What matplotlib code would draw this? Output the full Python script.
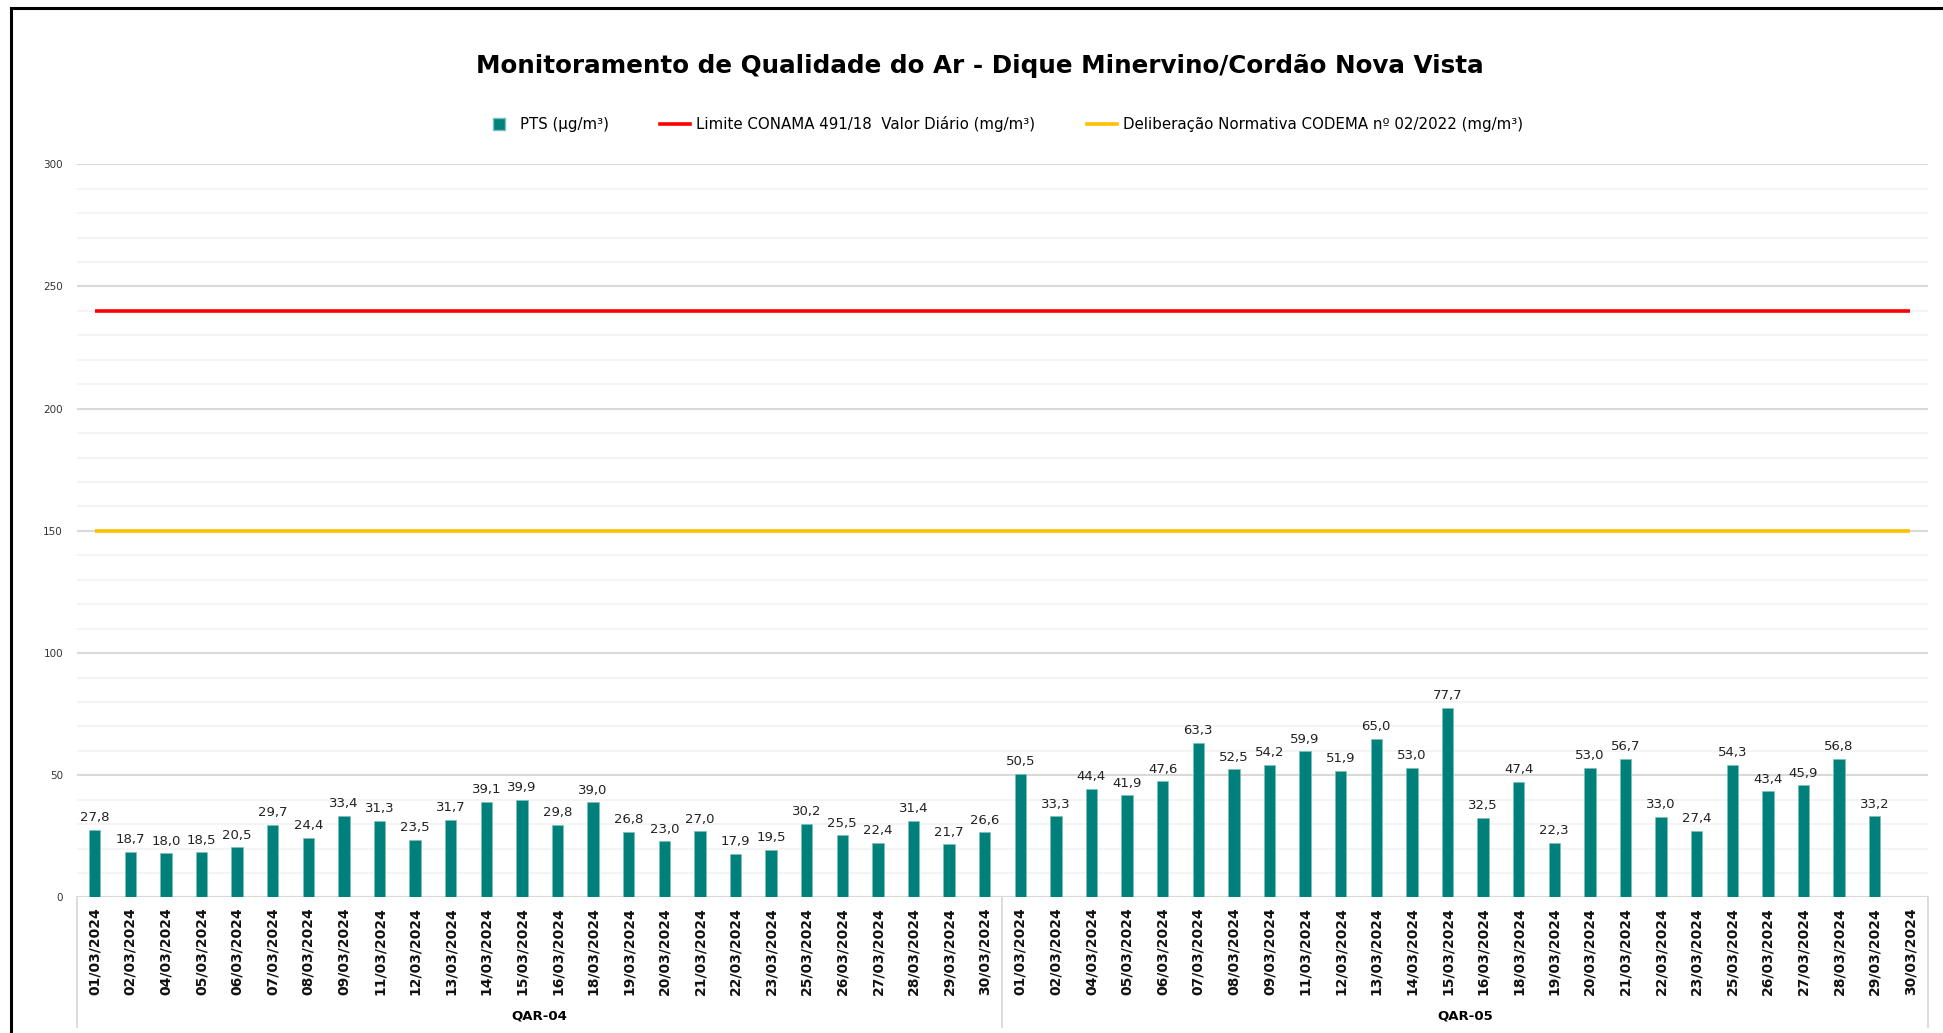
import matplotlib
matplotlib.use("Agg")
import matplotlib.pyplot as plt
import matplotlib.transforms as mtransforms
from matplotlib.lines import Line2D
import numpy as np

# ---------------- data ----------------
dates_qar04 = ["01/03/2024", "02/03/2024", "04/03/2024", "05/03/2024", "06/03/2024",
               "07/03/2024", "08/03/2024", "09/03/2024", "11/03/2024", "12/03/2024",
               "13/03/2024", "14/03/2024", "15/03/2024", "16/03/2024", "18/03/2024",
               "19/03/2024", "20/03/2024", "21/03/2024", "22/03/2024", "23/03/2024",
               "25/03/2024", "26/03/2024", "27/03/2024", "28/03/2024", "29/03/2024",
               "30/03/2024"]
pts_qar04 = [27.8, 18.7, 18.0, 18.5, 20.5, 29.7, 24.4, 33.4, 31.3, 23.5,
             31.7, 39.1, 39.9, 29.8, 39.0, 26.8, 23.0, 27.0, 17.9, 19.5,
             30.2, 25.5, 22.4, 31.4, 21.7, 26.6]

dates_qar05 = ["01/03/2024", "02/03/2024", "04/03/2024", "05/03/2024", "06/03/2024",
               "07/03/2024", "08/03/2024", "09/03/2024", "11/03/2024", "12/03/2024",
               "13/03/2024", "14/03/2024", "15/03/2024", "16/03/2024", "18/03/2024",
               "19/03/2024", "20/03/2024", "21/03/2024", "22/03/2024", "23/03/2024",
               "25/03/2024", "26/03/2024", "27/03/2024", "28/03/2024", "29/03/2024",
               "30/03/2024"]
pts_qar05 = [50.5, 33.3, 44.4, 41.9, 47.6, 63.3, 52.5, 54.2, 59.9, 51.9,
             65.0, 53.0, 77.7, 32.5, 47.4, 22.3, 53.0, 56.7, 33.0, 27.4,
             54.3, 43.4, 45.9, 56.8, 33.2, None]

groups = ["QAR-04", "QAR-05"]
limite_conama = 240
codema = 150

title = "Monitoramento de Qualidade do Ar - Dique Minervino/Cordão Nova Vista"
legend_labels = ["PTS (µg/m³)", "Limite CONAMA 491/18  Valor Diário (mg/m³)",
                 "Deliberação Normativa CODEMA nº 02/2022 (mg/m³)"]

# ---------------- figure ----------------
labels = dates_qar04 + dates_qar05
values = pts_qar04 + pts_qar05
vals = np.array([np.nan if v is None else v for v in values], dtype=float)
n = len(labels)
x = np.arange(n)

BAR = "#00807A"
RED = "#FF0000"
YEL = "#FFC000"
GRID = "#D9D9D9"
MINOR = "#F2F2F2"

fig = plt.figure(figsize=(19.43, 10.33), dpi=100)
ax = fig.add_axes([0.0396, 0.1312, 0.9527, 0.7098])

ax.set_xlim(-0.5, n - 0.5)
ax.set_ylim(0, 300)

# grid
ax.set_yticks(np.arange(0, 301, 50))
ax.set_yticks(np.arange(0, 301, 10), minor=True)
ax.grid(axis="y", which="major", color=GRID, linewidth=1.5, zorder=0)
ax.grid(axis="y", which="minor", color=MINOR, linewidth=1.2, zorder=0)
ax.set_axisbelow(True)
for s in ax.spines.values():
    s.set_visible(False)
ax.tick_params(axis="y", which="both", length=0, labelsize=7.5, pad=10, labelcolor="#333333")
ax.tick_params(axis="x", length=0, pad=7)

# bars
ax.bar(x, vals, width=0.32, color=BAR, edgecolor="#7FBFB9", linewidth=0.5, zorder=3)

# data labels
for xi, v in zip(x, vals):
    if np.isnan(v):
        continue
    ax.annotate(f"{v:.1f}".replace(".", ","), (xi, v), xytext=(0, 4),
                textcoords="offset points", ha="center", va="bottom",
                fontsize=9.5, color="#222222", zorder=4)

# reference lines
ax.plot(x, [limite_conama] * n, color=RED, linewidth=2.6, zorder=2, solid_capstyle="butt")
ax.plot(x, [codema] * n, color=YEL, linewidth=2.6, zorder=2, solid_capstyle="butt")

# baseline
ax.axhline(0, color=GRID, linewidth=1.5, zorder=2)

# x tick labels
ax.set_xticks(x)
ax.set_xticklabels(labels, rotation=90, fontsize=10, fontweight="bold", color="#111111")

# group separators and labels
trans = mtransforms.blended_transform_factory(ax.transData, ax.transAxes)
n04 = len(dates_qar04)
for sx in [-0.5, n04 - 0.5, n - 0.5]:
    ax.add_line(Line2D([sx, sx], [0, -0.176], transform=trans, color=GRID,
                       linewidth=1.3, clip_on=False))
gtrans = mtransforms.blended_transform_factory(ax.transData, fig.transFigure)
ax.text((n04 - 1) / 2, 0.0165, groups[0], transform=gtrans,
        ha="center", va="center", fontsize=9.5, fontweight="bold")
ax.text(n04 + (n - n04 - 1) / 2, 0.0165, groups[1], transform=gtrans,
        ha="center", va="center", fontsize=9.5, fontweight="bold")

# title
fig.text(0.5045, 0.936, title, ha="center", va="center", fontsize=17.7, fontweight="bold")

# legend
handles = [
    Line2D([], [], marker="s", linestyle="none", markersize=9, markerfacecolor=BAR,
           markeredgecolor="#7FBFB9"),
    Line2D([], [], color=RED, linewidth=2.6),
    Line2D([], [], color=YEL, linewidth=2.6),
]
fig.legend(handles, legend_labels, loc="center", bbox_to_anchor=(0.5165, 0.880), ncol=3,
           frameon=False, fontsize=10.8, handlelength=2.0, handletextpad=0.4,
           columnspacing=3.4)

# outer frame (left and top)
fig.add_artist(Line2D([0.0055, 0.0055], [0.0, 0.9925], transform=fig.transFigure,
                      color="black", linewidth=2.2))
fig.add_artist(Line2D([0.0055, 1.0], [0.9925, 0.9925], transform=fig.transFigure,
                      color="black", linewidth=2.2))

fig.savefig("out.png", dpi=100)
